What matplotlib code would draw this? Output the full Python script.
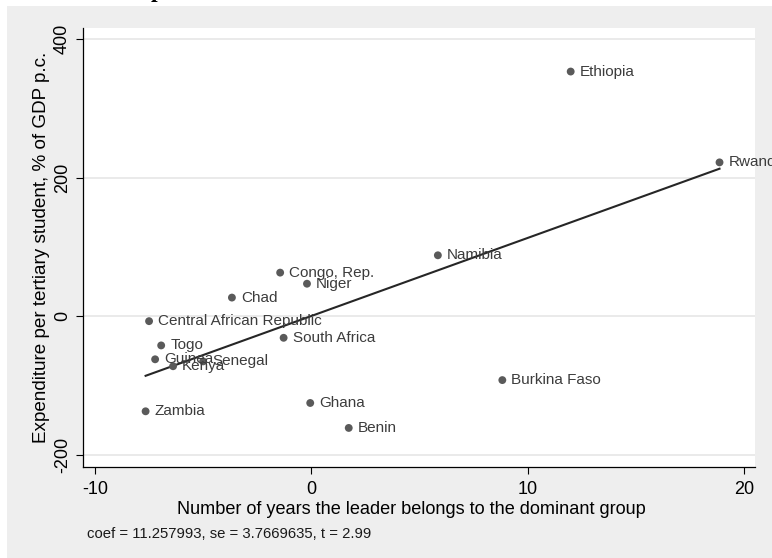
import numpy as np
import matplotlib.pyplot as plt
from matplotlib.patches import Rectangle

# ---------------------------
# Data (added-variable plot residuals)
# ---------------------------
countries = ["Ethiopia", "Rwanda", "Namibia", "Congo, Rep.", "Niger", "Chad",
             "Central African Republic", "South Africa", "Togo", "Guinea",
             "Senegal", "Kenya", "Zambia", "Ghana", "Benin", "Burkina Faso"]
years_dominant = [11.99, 18.87, 5.85, -1.44, -0.20, -3.67,
                  -7.50, -1.28, -6.94, -7.22,
                  -5.00, -6.39, -7.66, -0.05, 1.73, 8.83]
spend_tertiary = [353, 222, 88, 63, 47, 27,
                  -7, -31, -42, -62,
                  -65, -72, -137, -125, -161, -92]

coef = 11.257993
se = 3.7669635
tstat = 2.99

x_ticks = [-10, 0, 10, 20]
y_ticks = [-200, 0, 200, 400]

# ---------------------------
# Figure
# ---------------------------
plt.rcParams['font.family'] = ['Liberation Sans', 'DejaVu Sans']
plt.rcParams['axes.unicode_minus'] = False
W, H = 772, 558
fig = plt.figure(figsize=(W / 100, H / 100), dpi=100, facecolor='#eeeeee')

# white border strips on top and left
fig.patches.append(Rectangle((0, 1 - 6 / H), 1, 6 / H, transform=fig.transFigure,
                             facecolor='white', edgecolor='none', zorder=0))
fig.patches.append(Rectangle((0, 0), 7 / W, 1, transform=fig.transFigure,
                             facecolor='white', edgecolor='none', zorder=0))
fig.text(157 / W, 1 + 2.5 / H, "p", family='Liberation Serif', fontsize=17,
         fontweight='bold', ha='center', va='baseline', color='black')

ax = fig.add_axes([83.3 / W, 1 - 466.7 / H, (755 - 83.3) / W, (466.7 - 28) / H])
ax.set_facecolor('white')

x = np.array(years_dominant)
y = np.array(spend_tertiary)

# fitted line: slope from regression, passing through the means
intercept = y.mean() - coef * x.mean()
xs = np.array([x.min(), x.max()])
ax.plot(xs, intercept + coef * xs, color='#262626', lw=1.5, zorder=3)

ax.scatter(x, y, s=32, color='#5a5a5a', edgecolors='none', zorder=4)
for name, xi, yi in zip(countries, x, y):
    ax.annotate(name, (xi, yi), xytext=(6.5, 0), textcoords='offset points',
                ha='left', va='center', fontsize=11, color='#3c3c3c', zorder=5)

ax.set_xlim(-10.54, 20.51)
ax.set_ylim(-216.9, 415.8)
ax.set_xticks(x_ticks)
ax.set_yticks(y_ticks)
ax.set_yticklabels([str(v) for v in y_ticks], rotation=90, va='center')
ax.tick_params(axis='both', direction='out', length=5, width=0.8, labelsize=13,
               color='black')
ax.tick_params(axis='x', pad=5)
ax.tick_params(axis='y', pad=4)

ax.grid(axis='y', color='#e6e6e6', lw=1.2)
ax.set_axisbelow(True)
for side in ['top', 'right']:
    ax.spines[side].set_visible(False)
for side in ['left', 'bottom']:
    ax.spines[side].set_linewidth(0.9)
    ax.spines[side].set_color('black')

ax.set_xlabel("Number of years the leader belongs to the dominant group",
              fontsize=13.1, va='top')
ax.xaxis.set_label_coords(0.488, -0.078)
ax.set_ylabel("Expenditure per tertiary student, % of GDP p.c.",
              fontsize=13.6, labelpad=3)

fig.text(86.7 / W, 1 - 537.7 / H,
         f"coef = {coef:.6f}, se = {se:.7f}, t = {tstat:.2f}",
         fontsize=10.7, ha='left', va='baseline', color='#1a1a1a')

fig.savefig("out.png", dpi=100, facecolor=fig.get_facecolor())
